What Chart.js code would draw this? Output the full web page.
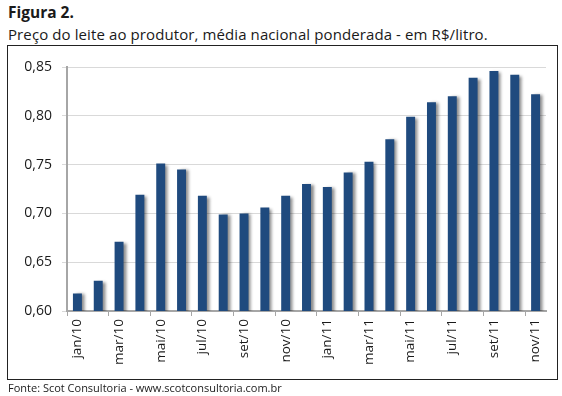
<!DOCTYPE html>
<html>
<head>
<meta charset="utf-8">
<script src="https://cdn.jsdelivr.net/npm/chart.js@4"></script>
<style>
	body { margin: 0; background: #fff; }
	#wrap { position: relative; width: 562px; height: 396px; font-family: "Open Sans", sans-serif; color: #1a1a1a; }
	#title { position: absolute; left: 8px; top: 1px; font-size: 15.5px; font-weight: bold; }
	#subtitle { position: absolute; left: 8px; top: 24px; font-size: 15px; letter-spacing: 0.1px; }
	#box { position: absolute; left: 7px; top: 45px; width: 549px; height: 333px; border: 1.5px solid #222; }
	#footer { position: absolute; left: 8px; top: 380px; font-size: 11px; }
	canvas { position: absolute; left: 0; top: 0; }
</style>
</head>
<body>
<div id="wrap">
	<div id="title">Figura 2.</div>
	<div id="subtitle">Preço do leite ao produtor, média nacional ponderada - em R$/litro.</div>
	<div id="box"></div>
	<canvas id="BarChart" width="562" height="396"></canvas>
	<div id="footer">Fonte: Scot Consultoria - www.scotconsultoria.com.br</div>
</div>
<script>
const months = ["jan/10", "fev/10", "mar/10", "abr/10", "mai/10", "jun/10", "jul/10", "ago/10", "set/10", "out/10", "nov/10", "dez/10",
	"jan/11", "fev/11", "mar/11", "abr/11", "mai/11", "jun/11", "jul/11", "ago/11", "set/11", "out/11", "nov/11"]
const prices = [0.618, 0.631, 0.671, 0.719, 0.751, 0.745, 0.718, 0.699, 0.700, 0.706, 0.718, 0.730,
	0.727, 0.742, 0.753, 0.776, 0.799, 0.814, 0.820, 0.839, 0.846, 0.842, 0.822]
const yTicks = [0.60, 0.65, 0.70, 0.75, 0.80, 0.85]

const barShadow = {
	id: "barShadow",
	beforeDatasetsDraw(chart) {
		const ctx = chart.ctx
		ctx.save()
		ctx.shadowColor = "rgba(0, 0, 0, 0.45)"
		ctx.shadowOffsetX = 3
		ctx.shadowOffsetY = 1
		ctx.shadowBlur = 3
	},
	afterDatasetsDraw(chart) {
		chart.ctx.restore()
	},
}

const ctx = document.getElementById("BarChart").getContext("2d")
new Chart(ctx, {
	type: "bar",
	data: {
		labels: months,
		datasets: [
			{
				data: prices,
				backgroundColor: "#1f4a7e",
				barPercentage: 0.43,
				categoryPercentage: 1,
			},
		],
	},
	options: {
		responsive: false,
		animation: false,
		layout: { padding: { top: 67, right: 16, left: 0, bottom: 0 } },
		plugins: { legend: { display: false }, tooltip: { enabled: false } },
		scales: {
			x: {
				afterFit: (scale) => { scale.height = 85 },
				border: { color: "#a6a6a6", width: 2 },
				grid: {
					drawOnChartArea: false,
					tickLength: 5,
					tickColor: (c) => (c.index % 2 === 0 ? "#a6a6a6" : "rgba(0,0,0,0)"),
				},
				ticks: {
					autoSkip: false,
					minRotation: 90,
					maxRotation: 90,
					padding: 3,
					color: "#1a1a1a",
					font: { family: "Open Sans", size: 13.5 },
					callback: (v, i) => (i % 2 === 0 ? months[i] : ""),
				},
			},
			y: {
				min: 0.6,
				max: 0.85,
				afterFit: (scale) => { scale.width = 67 },
				afterBuildTicks: (scale) => { scale.ticks = yTicks.map((v) => ({ value: v })) },
				border: { color: "#a6a6a6", width: 2 },
				grid: { color: "#d9d9d9", tickLength: 5, lineWidth: 1 },
				ticks: {
					padding: 10,
					color: "#1a1a1a",
					font: { family: "Open Sans", size: 14 },
					callback: (v) => v.toFixed(2).replace(".", ","),
				},
			},
		},
	},
	plugins: [barShadow],
})
</script>
</body>
</html>
